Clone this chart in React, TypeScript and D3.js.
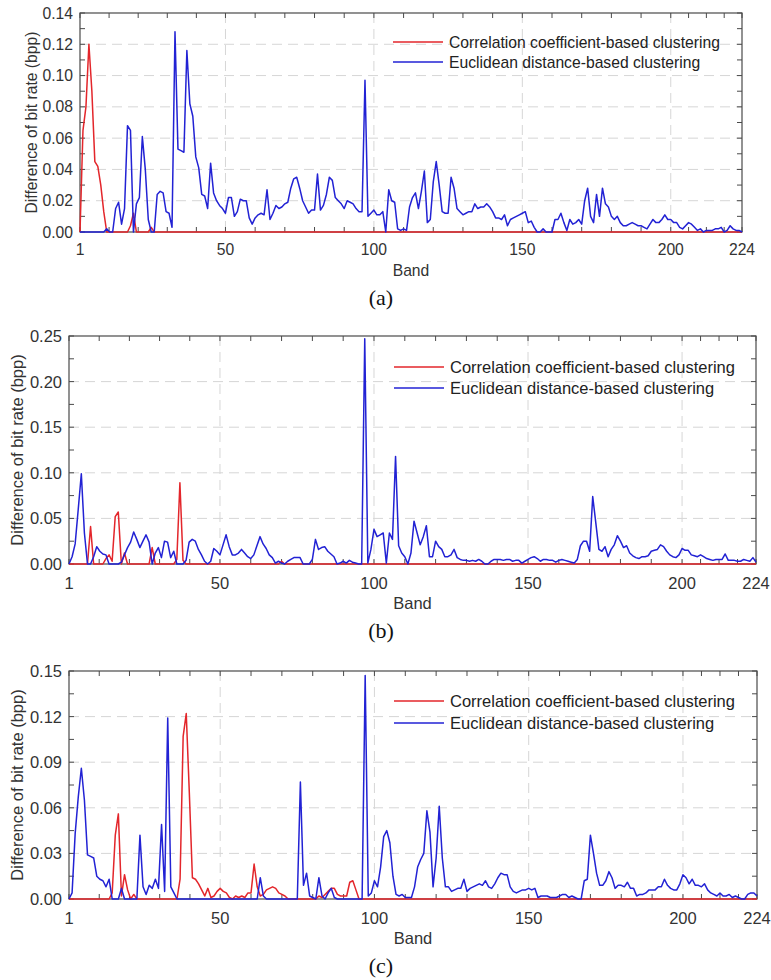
import React, { useEffect, useRef } from "react";
import * as d3 from "d3";

// band index 1..224 on the x axis
const bands = d3.range(1, 225);
const xTicks = [1, 50, 100, 150, 200, 224];

// (a) correlation coefficient-based clustering
const redA = [
  0, 0.065, 0.08, 0.12, 0.09, 0.045, 0.042, 0.03, 0.013, 0,
  0, 0, 0, 0, 0, 0, 0, 0.004, 0.012, 0,
  0, 0, 0, 0, 0.003, 0, 0, 0, 0, 0,
  0, 0, 0, 0, 0, 0, 0, 0, 0, 0,
  0, 0, 0, 0, 0, 0, 0, 0, 0, 0,
  0, 0, 0, 0, 0, 0, 0, 0, 0, 0,
  0, 0, 0, 0, 0, 0, 0, 0, 0, 0,
  0, 0, 0, 0, 0, 0, 0, 0, 0, 0,
  0, 0, 0, 0, 0, 0, 0, 0, 0, 0,
  0, 0, 0, 0, 0, 0, 0, 0, 0, 0,
  0, 0, 0, 0, 0, 0, 0, 0, 0, 0,
  0, 0, 0, 0, 0, 0, 0, 0, 0, 0,
  0, 0, 0, 0, 0, 0, 0, 0, 0, 0,
  0, 0, 0, 0, 0, 0, 0, 0, 0, 0,
  0, 0, 0, 0, 0, 0, 0, 0, 0, 0,
  0, 0, 0, 0, 0, 0, 0, 0, 0, 0,
  0, 0, 0, 0, 0, 0, 0, 0, 0, 0,
  0, 0, 0, 0, 0, 0, 0, 0, 0, 0,
  0, 0, 0, 0, 0, 0, 0, 0, 0, 0,
  0, 0, 0, 0, 0, 0, 0, 0, 0, 0,
  0, 0, 0, 0, 0, 0, 0, 0, 0, 0,
  0, 0, 0, 0, 0, 0, 0, 0, 0, 0,
  0, 0, 0, 0,
];

// (a) euclidean distance-based clustering
const blueA = [
  0, 0, 0, 0, 0, 0, 0, 0, 0, 0.002,
  0, 0, 0.015, 0.019, 0.005, 0.015, 0.068, 0.065, 0, 0.018,
  0.022, 0.061, 0.04, 0.008, 0, 0, 0.024, 0.026, 0.025, 0.013,
  0.012, 0.003, 0.128, 0.053, 0.052, 0.051, 0.116, 0.082, 0.074, 0.048,
  0.041, 0.024, 0.023, 0.015, 0.044, 0.025, 0.02, 0.017, 0.015, 0.012,
  0.022, 0.022, 0.01, 0.013, 0.021, 0.02, 0.02, 0.009, 0.005, 0.009,
  0.011, 0.012, 0.011, 0.027, 0.008, 0.012, 0.017, 0.015, 0.016, 0.018,
  0.019, 0.028, 0.034, 0.035, 0.028, 0.02, 0.016, 0.012, 0.014, 0.014,
  0.037, 0.014, 0.017, 0.024, 0.035, 0.033, 0.022, 0.02, 0.018, 0.015,
  0.02, 0.019, 0.018, 0.015, 0.013, 0.013, 0.097, 0.01, 0.012, 0.014,
  0.011, 0.011, 0.013, 0, 0.027, 0.02, 0.019, 0.002, 0.001, 0.002,
  0.001, 0.016, 0.022, 0.025, 0.015, 0.026, 0.039, 0.006, 0.008, 0.032,
  0.045, 0.03, 0.013, 0.012, 0.012, 0.035, 0.028, 0.015, 0.013, 0.011,
  0.012, 0.013, 0.013, 0.018, 0.015, 0.016, 0.016, 0.018, 0.016, 0.013,
  0.009, 0.009, 0.008, 0.011, 0.004, 0.008, 0.009, 0.01, 0.011, 0.012,
  0.013, 0.006, 0.007, 0.003, 0, 0, 0.002, 0, 0, 0,
  0.008, 0.008, 0.012, 0.006, 0.001, 0.008, 0.005, 0.006, 0.008, 0.005,
  0.02, 0.028, 0.01, 0.006, 0.024, 0.01, 0.028, 0.018, 0.016, 0.01,
  0.008, 0.01, 0.006, 0.004, 0.004, 0.005, 0.006, 0.005, 0.004, 0.004,
  0.003, 0.002, 0.005, 0.008, 0.006, 0.006, 0.008, 0.011, 0.008, 0.008,
  0.006, 0.006, 0.003, 0.002, 0.004, 0.006, 0.005, 0.003, 0.001, 0.002,
  0, 0.001, 0.001, 0.001, 0.002, 0.002, 0.003, 0, 0.001, 0.004,
  0.002, 0.001, 0.001, 0,
];

// (b)
const redB = [
  0, 0, 0, 0, 0, 0, 0, 0.041, 0, 0,
  0, 0, 0.006, 0.01, 0.003, 0.052, 0.057, 0, 0.012, 0,
  0, 0, 0, 0, 0, 0, 0, 0.018, 0, 0,
  0, 0, 0, 0, 0, 0.005, 0.089, 0.004, 0, 0,
  0, 0, 0, 0, 0, 0, 0, 0, 0, 0,
  0, 0, 0, 0, 0, 0, 0, 0, 0, 0,
  0, 0, 0, 0, 0, 0, 0, 0, 0, 0.003,
  0, 0, 0, 0, 0, 0, 0, 0, 0, 0,
  0, 0, 0, 0, 0, 0, 0, 0, 0, 0,
  0, 0, 0, 0, 0, 0, 0, 0, 0, 0,
  0, 0, 0, 0, 0, 0, 0, 0, 0, 0,
  0, 0, 0, 0, 0, 0, 0, 0, 0, 0,
  0, 0, 0, 0, 0, 0, 0, 0, 0, 0,
  0, 0, 0, 0, 0, 0, 0, 0, 0, 0,
  0, 0, 0, 0, 0, 0, 0, 0, 0, 0,
  0, 0, 0, 0, 0, 0, 0, 0, 0, 0,
  0, 0, 0, 0, 0, 0, 0, 0, 0, 0,
  0, 0, 0, 0, 0, 0, 0, 0, 0, 0,
  0, 0, 0, 0, 0, 0, 0, 0, 0, 0,
  0, 0, 0, 0, 0, 0, 0, 0, 0, 0,
  0, 0, 0, 0, 0, 0, 0, 0, 0, 0,
  0, 0, 0, 0, 0, 0, 0, 0, 0, 0,
  0, 0, 0, 0,
];

const blueB = [
  0, 0.008, 0.022, 0.06, 0.099, 0.034, 0, 0, 0.008, 0.019,
  0.014, 0.011, 0.01, 0, 0, 0, 0, 0.002, 0.01, 0.018,
  0.024, 0.035, 0.027, 0.018, 0.025, 0.032, 0.024, 0, 0.012, 0.018,
  0.007, 0.025, 0.024, 0.007, 0.014, 0, 0, 0, 0.004, 0.024,
  0.027, 0.025, 0.016, 0.01, 0.003, 0, 0.003, 0.017, 0.014, 0.01,
  0.021, 0.032, 0.019, 0.01, 0.01, 0.012, 0.016, 0.012, 0.008, 0.006,
  0.01, 0.02, 0.03, 0.022, 0.017, 0.01, 0.007, 0.001, 0.003, 0.001,
  0, 0.003, 0.005, 0.007, 0.007, 0.007, 0, 0, 0, 0.005,
  0.027, 0.016, 0.018, 0.019, 0.014, 0.011, 0.008, 0, 0.001, 0.003,
  0.001, 0.004, 0.002, 0.001, 0, 0, 0.247, 0.001, 0.016, 0.038,
  0.03, 0.032, 0.034, 0.001, 0.034, 0.027, 0.118, 0.02, 0.012, 0.008,
  0, 0.012, 0.047, 0.034, 0.021, 0.03, 0.042, 0.008, 0.008, 0.025,
  0.019, 0.016, 0.008, 0.008, 0.01, 0.016, 0.007, 0.005, 0.004, 0.004,
  0.003, 0.004, 0.003, 0.005, 0.003, 0, 0, 0.003, 0.005, 0.005,
  0.005, 0.004, 0.005, 0.005, 0.003, 0.004, 0.004, 0.001, 0.003, 0.005,
  0.007, 0.008, 0.006, 0.003, 0.005, 0.005, 0.004, 0.004, 0.002, 0.004,
  0.005, 0.004, 0.003, 0.002, 0.001, 0.005, 0.02, 0.025, 0.025, 0.014,
  0.074, 0.045, 0.016, 0.014, 0.019, 0.008, 0.016, 0.021, 0.031, 0.025,
  0.018, 0.02, 0.012, 0.009, 0.007, 0.006, 0.008, 0.008, 0.009, 0.014,
  0.015, 0.016, 0.021, 0.019, 0.014, 0.01, 0.008, 0.007, 0.01, 0.017,
  0.015, 0.015, 0.01, 0.009, 0.008, 0.01, 0.008, 0.006, 0.005, 0.004,
  0.005, 0.005, 0.005, 0.011, 0.004, 0.004, 0.004, 0.003, 0.003, 0.005,
  0.004, 0.003, 0.007, 0.002,
];

// (c)
const redC = [
  0, 0, 0, 0, 0, 0, 0, 0, 0, 0,
  0, 0, 0, 0, 0.004, 0.042, 0.056, 0.002, 0.016, 0.006,
  0, 0.003, 0, 0, 0, 0, 0, 0, 0, 0,
  0, 0, 0, 0, 0, 0, 0.013, 0.107, 0.122, 0.07,
  0.014, 0.013, 0.01, 0.006, 0.002, 0.007, 0.001, 0.002, 0.005, 0.007,
  0.005, 0.004, 0.001, 0, 0.002, 0.001, 0.002, 0.001, 0.004, 0.004,
  0.023, 0.008, 0.002, 0.003, 0.006, 0.007, 0.008, 0.007, 0.004, 0.003,
  0.002, 0, 0, 0, 0, 0, 0, 0, 0, 0,
  0, 0.002, 0.001, 0.003, 0.005, 0.007, 0.007, 0.003, 0.002, 0.002,
  0.002, 0.011, 0.012, 0.006, 0, 0, 0, 0, 0, 0,
  0, 0, 0, 0, 0, 0, 0, 0, 0, 0,
  0, 0, 0, 0, 0, 0, 0, 0, 0, 0,
  0, 0, 0, 0, 0, 0, 0, 0, 0, 0,
  0, 0, 0, 0, 0, 0, 0, 0, 0, 0,
  0, 0, 0, 0, 0, 0, 0, 0, 0, 0,
  0, 0, 0, 0, 0, 0, 0, 0, 0, 0,
  0, 0, 0, 0, 0, 0, 0, 0, 0, 0,
  0, 0, 0, 0, 0, 0, 0, 0, 0, 0,
  0, 0, 0, 0, 0, 0, 0, 0, 0, 0,
  0, 0, 0, 0, 0, 0, 0, 0, 0, 0,
  0, 0, 0, 0, 0, 0, 0, 0, 0, 0,
  0, 0, 0, 0, 0, 0, 0, 0, 0, 0,
  0, 0, 0, 0,
];

const blueC = [
  0, 0.004, 0.043, 0.067, 0.086, 0.065, 0.029, 0.028, 0.027, 0.015,
  0.013, 0.012, 0.008, 0.013, 0, 0, 0, 0.007, 0, 0,
  0, 0, 0, 0.042, 0.008, 0.003, 0.009, 0.007, 0.013, 0.007,
  0.049, 0.005, 0.119, 0.008, 0.004, 0, 0, 0, 0, 0,
  0, 0, 0, 0, 0, 0, 0, 0, 0, 0,
  0, 0, 0, 0, 0, 0, 0, 0, 0, 0,
  0, 0, 0.014, 0.002, 0, 0, 0, 0, 0, 0,
  0, 0, 0, 0, 0, 0.077, 0.009, 0.017, 0.002, 0.001,
  0, 0.014, 0.002, 0, 0.004, 0.007, 0.001, 0, 0, 0,
  0, 0, 0, 0, 0, 0, 0.147, 0.002, 0.004, 0.012,
  0.008, 0.021, 0.041, 0.045, 0.037, 0.015, 0.003, 0.002, 0.003, 0.001,
  0.001, 0.001, 0.008, 0.021, 0.026, 0.03, 0.058, 0.044, 0.008, 0.027,
  0.061, 0.027, 0.008, 0.008, 0.005, 0.006, 0.007, 0.007, 0.013, 0.005,
  0.007, 0.008, 0.009, 0.01, 0.009, 0.012, 0.008, 0.007, 0.01, 0.014,
  0.017, 0.016, 0.016, 0.008, 0.005, 0.004, 0.005, 0.006, 0.006, 0.007,
  0.006, 0.007, 0.001, 0.002, 0.002, 0.002, 0.001, 0.001, 0.001, 0.002,
  0.003, 0.003, 0.001, 0.002, 0.001, 0, 0, 0.012, 0.013, 0.042,
  0.03, 0.017, 0.009, 0.009, 0.012, 0.018, 0.014, 0.007, 0.009, 0.009,
  0.008, 0.011, 0.007, 0.007, 0.002, 0.003, 0.003, 0.004, 0.006, 0.006,
  0.006, 0.008, 0.008, 0.013, 0.009, 0.007, 0.006, 0.006, 0.01, 0.016,
  0.014, 0.01, 0.013, 0.009, 0.009, 0.008, 0.01, 0.006, 0.004, 0.003,
  0.002, 0.004, 0.002, 0.002, 0.003, 0.001, 0.002, 0.001, 0, 0,
  0.003, 0.004, 0.004, 0.002,
];

const legendLabels = [
  "Correlation coefficient-based clustering",
  "Euclidean distance-based clustering",
];

const RED = "#e3262b";
const BLUE = "#2222d4";
const AXIS = "#4a4a4a";
const TEXT = "#333333";
const GRID = "#d6d6d6";

const panels = [
  { caption: "(a)", red: redA, blue: blueA, yMax: 0.14, yStep: 0.02,
    left: 80, right: 742, top: 13, bottom: 232, font: 15.7, ylabX: 31,
    xLabDy: 17, bandDy: 38, capY: 297, legX: 393, legDy: [29, 49] },
  { caption: "(b)", red: redB, blue: blueB, yMax: 0.25, yStep: 0.05,
    left: 69, right: 756, top: 336, bottom: 564, font: 16.5, ylabX: 17,
    xLabDy: 19, bandDy: 39, capY: 630, legX: 394, legDy: [31, 52] },
  { caption: "(c)", red: redC, blue: blueC, yMax: 0.15, yStep: 0.03,
    left: 69, right: 757, top: 671, bottom: 899, font: 16.5, ylabX: 17,
    xLabDy: 19, bandDy: 39, capY: 965, legX: 394, legDy: [30, 52] },
];

function drawPanel(svg, p) {
  const g = svg.append("g");
  const x = d3.scaleLinear().domain([1, 224]).range([p.left, p.right]);
  const y = d3.scaleLinear().domain([0, p.yMax]).range([p.bottom, p.top]);
  const n = Math.round(p.yMax / p.yStep);
  const yTicks = d3.range(0, n + 1).map((i) => i * p.yStep);
  const yMinor = d3.range(0, 2 * n + 1).map((i) => (i * p.yStep) / 2);
  const xMinor = [];
  for (let i = 0; i < xTicks.length - 1; i++) {
    const a = xTicks[i], b = xTicks[i + 1];
    const k = i === xTicks.length - 2 ? 4 : 5;
    for (let j = 1; j < k; j++) xMinor.push(a + ((b - a) * j) / k);
  }
  const tk = 5;

  // grid
  g.append("g")
    .selectAll("line")
    .data(yTicks.slice(1, -1))
    .join("line")
    .attr("x1", p.left).attr("x2", p.right)
    .attr("y1", (d) => y(d)).attr("y2", (d) => y(d))
    .attr("stroke", GRID).attr("stroke-dasharray", "10,6");
  g.append("g")
    .selectAll("line")
    .data(xTicks.slice(1, -1))
    .join("line")
    .attr("y1", p.top).attr("y2", p.bottom)
    .attr("x1", (d) => x(d)).attr("x2", (d) => x(d))
    .attr("stroke", GRID).attr("stroke-dasharray", "10,6");

  // ticks, inward on all sides
  const ticks = g.append("g").attr("stroke", AXIS).attr("stroke-width", 1);
  const xt = [...xTicks, ...xMinor];
  ticks.selectAll(".xb").data(xt).join("line")
    .attr("x1", (d) => x(d)).attr("x2", (d) => x(d))
    .attr("y1", p.bottom).attr("y2", p.bottom - tk);
  ticks.selectAll(".xt").data(xt).join("line").attr("class", "xt")
    .attr("x1", (d) => x(d)).attr("x2", (d) => x(d))
    .attr("y1", p.top).attr("y2", p.top + tk);
  ticks.selectAll(".yl").data(yMinor).join("line").attr("class", "yl")
    .attr("y1", (d) => y(d)).attr("y2", (d) => y(d))
    .attr("x1", p.left).attr("x2", p.left + tk);
  ticks.selectAll(".yr").data(yMinor).join("line").attr("class", "yr")
    .attr("y1", (d) => y(d)).attr("y2", (d) => y(d))
    .attr("x1", p.right).attr("x2", p.right - tk);

  g.append("rect")
    .attr("x", p.left).attr("y", p.top)
    .attr("width", p.right - p.left).attr("height", p.bottom - p.top)
    .attr("fill", "none").attr("stroke", AXIS).attr("stroke-width", 1.2);

  // tick labels
  const font = "'Liberation Sans', Arial, sans-serif";
  g.append("g")
    .selectAll("text")
    .data(yTicks)
    .join("text")
    .attr("x", p.left - 7)
    .attr("y", (d) => y(d))
    .attr("text-anchor", "end")
    .attr("dominant-baseline", "central")
    .attr("font-family", font).attr("font-size", p.font).attr("fill", TEXT)
    .text((d) => d3.format(".2f")(d));
  g.append("g")
    .selectAll("text")
    .data(xTicks)
    .join("text")
    .attr("x", (d) => x(d))
    .attr("y", p.bottom + p.xLabDy)
    .attr("text-anchor", "middle")
    .attr("dominant-baseline", "central")
    .attr("font-family", font).attr("font-size", p.font).attr("fill", TEXT)
    .text((d) => d);

  g.append("text")
    .attr("x", (p.left + p.right) / 2)
    .attr("y", p.bottom + p.bandDy)
    .attr("text-anchor", "middle")
    .attr("dominant-baseline", "central")
    .attr("font-family", font).attr("font-size", p.font).attr("fill", TEXT)
    .text("Band");
  g.append("text")
    .attr("transform", `translate(${p.ylabX},${(p.top + p.bottom) / 2}) rotate(-90)`)
    .attr("text-anchor", "middle")
    .attr("dominant-baseline", "central")
    .attr("font-family", font).attr("font-size", p.font).attr("fill", TEXT)
    .text("Difference of bit rate (bpp)");
  g.append("text")
    .attr("x", 381)
    .attr("y", p.capY)
    .attr("text-anchor", "middle")
    .attr("dominant-baseline", "central")
    .attr("font-family", "'Liberation Serif', 'Times New Roman', serif")
    .attr("font-size", 22).attr("fill", "#111")
    .text(p.caption);

  // series
  const line = d3.line().x((d, i) => x(bands[i])).y((d) => y(d));
  [
    { data: p.red, color: RED },
    { data: p.blue, color: BLUE },
  ].forEach((s) => {
    g.append("path")
      .datum(s.data)
      .attr("d", line)
      .attr("fill", "none")
      .attr("stroke", s.color)
      .attr("stroke-width", 1.5)
      .attr("stroke-linejoin", "round");
  });

  // legend
  const leg = g.append("g");
  [RED, BLUE].forEach((c, i) => {
    const ly = p.top + p.legDy[i];
    leg.append("line")
      .attr("x1", p.legX).attr("x2", p.legX + 50)
      .attr("y1", ly).attr("y2", ly)
      .attr("stroke", c).attr("stroke-width", 1.5);
    leg.append("text")
      .attr("x", p.legX + 56)
      .attr("y", ly)
      .attr("dominant-baseline", "central")
      .attr("font-family", font).attr("font-size", p.font).attr("fill", "#222")
      .text(legendLabels[i]);
  });
}

const App = () => {
  const ref = useRef(null);
  useEffect(() => {
    const svg = d3.select(ref.current);
    svg.selectAll("*").remove();
    panels.forEach((p) => drawPanel(svg, p));
  }, []);

  return (
    <svg
      ref={ref}
      width={771}
      height={980}
      style={{ position: "absolute", left: 0, top: 0, background: "#fff" }}
    />
  );
};

export default App;
